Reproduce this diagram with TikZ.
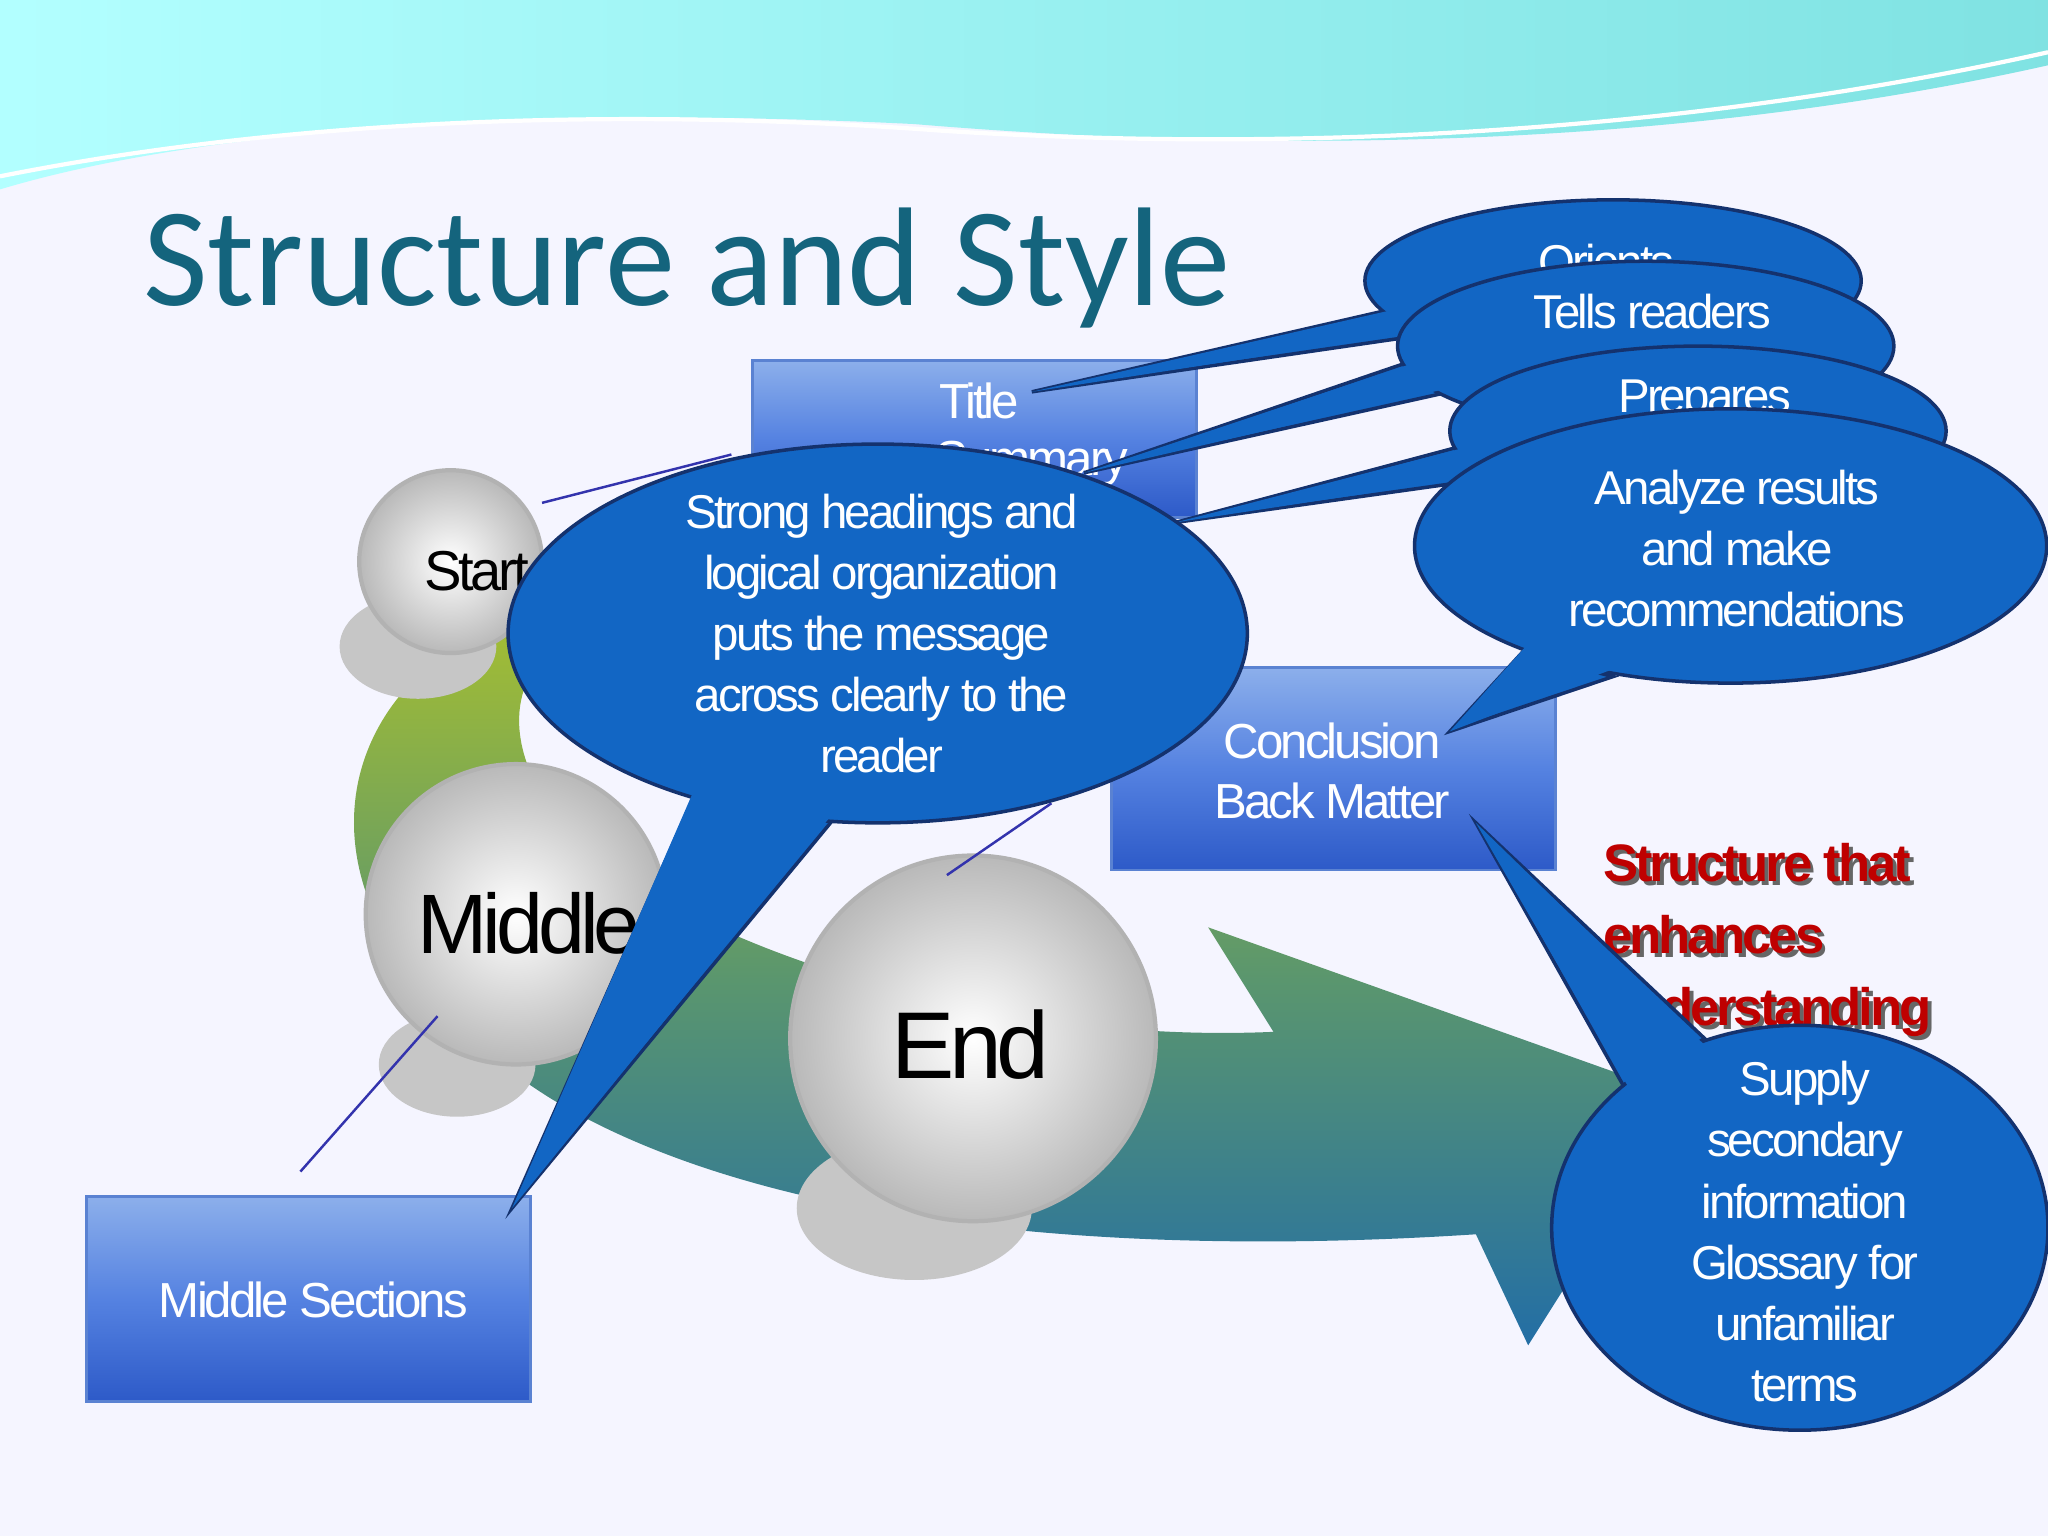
\documentclass[tikz,border=0pt]{standalone}
\usepackage{fontspec}
\setmainfont{Liberation Sans}[LetterSpace=-6]
\newfontfamily\titlefont{Carlito}
\begin{document}
\begin{tikzpicture}[x=0.013061cm,y=-0.013061cm,
  bx/.style={draw=boxedge,line width=0.8pt,top color=boxtop,bottom color=boxbot,middle color=boxmid},
  cb/.style={fill=calblue,draw=calborder,line width=1pt},
  cbf/.style={fill=calblue},
  ct/.style={text=white,align=center,font=\fontsize{13.5}{17.4}\selectfont},
  ball/.style={inner color=white,outer color=gray!55,draw=gray!60,line width=1.2pt},
  shad/.style={fill=gray!45},
  thin/.style={draw=blue!60!black!80,line width=0.7pt}]
\definecolor{calblue}{RGB}{18,102,196}
\definecolor{calborder}{RGB}{20,50,110}
\definecolor{titlec}{RGB}{20,100,125}
\definecolor{boxtop}{RGB}{140,175,235}
\definecolor{boxmid}{RGB}{85,130,225}
\definecolor{boxbot}{RGB}{45,90,200}
\definecolor{boxedge}{RGB}{90,130,210}
\definecolor{arrg}{RGB}{165,190,50}
\definecolor{arrm}{RGB}{90,150,110}
\definecolor{arrb}{RGB}{35,110,165}
\useasboundingbox (0,0) rectangle (1568,1176);
\fill[white!96!blue] (0,0) rectangle (1568,1176);
% top wave
\shade[left color=cyan!30!white,right color=cyan!55!teal!50!white] (0,0) -- (1568,0) -- (1568,50) .. controls (1300,110) and (1000,120) .. (700,95) .. controls (400,80) and (150,100) .. (0,145) -- cycle;
\draw[white,line width=1.2pt] (0,135) .. controls (200,95) and (450,80) .. (720,100) .. controls (1000,118) and (1300,100) .. (1568,40);
\node[text=titlec,font=\titlefont\fontsize{40}{40}\selectfont,anchor=west] (title) at (100,205) {Structure and Style};
% arrow band
\shade[top color=arrg,bottom color=arrb,middle color=arrm]
 (400,470) .. controls (250,520) and (200,700) .. (420,840) .. controls (600,950) and (900,960) .. (1130,945) -- (1170,1030) -- (1290,840) -- (925,710) -- (975,790) .. controls (750,800) and (520,720) .. (440,640) .. controls (390,590) and (385,530) .. (420,500) -- cycle;
% shadows
\fill[shad] (320,495) ellipse (60 and 40);
\fill[shad] (350,815) ellipse (60 and 40);
\fill[shad] (700,925) ellipse (90 and 55);
% boxes
\node[bx,minimum width=340*0.013061cm,minimum height=120*0.013061cm,anchor=north west] (tbox) at (575,275) {};
\node[text=white,font=\fontsize{14}{14}\selectfont] (tt) at (750,307) {Title};
\node[text=white,font=\fontsize{14}{14}\selectfont] (ts) at (790,355) {Summary};
\node[bx,minimum width=340*0.013061cm,minimum height=155*0.013061cm,anchor=north west] (cbox) at (850,510) {};
\node[text=white,align=center,font=\fontsize{14}{17}\selectfont] (ctext) at (1020,590) {Conclusion\\Back Matter};
\node[bx,minimum width=340*0.013061cm,minimum height=157*0.013061cm,anchor=north west] (mbox) at (65,915) {};
\node[text=white,font=\fontsize{14}{14}\selectfont] (mtext) at (240,995) {Middle Sections};
% spheres
\node[ball,circle,minimum size=140*0.013061cm] (start) at (345,430) {};
\node[ball,circle,minimum size=230*0.013061cm] (middle) at (395,700) {};
\node[ball,circle,minimum size=280*0.013061cm] (end) at (745,795) {};
\node[font=\fontsize{16}{16}\selectfont] (startt) at (365,437) {Start};
\node[font=\fontsize{24}{24}\selectfont] (middlet) at (405,707) {Middle};
\node[font=\fontsize{27}{27}\selectfont] (endt) at (743,800) {End};
% connectors
\coordinate (s1) at (415,385); \coordinate (s2) at (560,348);
\coordinate (m1) at (335,778); \coordinate (m2) at (230,897);
\coordinate (e1) at (725,670); \coordinate (e2) at (805,615);
\draw[thin] (s1) -- (s2); \draw[thin] (m1) -- (m2); \draw[thin] (e1) -- (e2);
% red text
\node[text=black!60,align=left,anchor=north west,font=\bfseries\fontsize{15}{20.5}\selectfont] at (1221,639) {Structure that\\enhances\\understanding};
\node[text=red!75!black,align=left,anchor=north west,font=\bfseries\fontsize{15}{20.5}\selectfont] (red) at (1218,636) {Structure that\\enhances\\understanding};
% callout 1
\coordinate (t1) at (790,300);
\draw[cb] (1060,238) -- (t1) -- (1100,255) -- cycle;
\draw[cb] (1235,215) ellipse (190 and 62);
\fill[cbf] (1063,238) -- (t1) -- (1100,252) -- cycle;
\node[ct] (c1) at (1230,200) {Orients};
% callout 2
\coordinate (t2) at (830,362);
\draw[cb] (1085,275) -- (t2) -- (1110,300) -- cycle;
\draw[cb] (1260,265) ellipse (190 and 65);
\fill[cbf] (1088,276) -- (t2) -- (1110,297) -- cycle;
\node[ct] (c2) at (1265,262) {Tells readers\\What};
% callout 3
\coordinate (t3) at (900,400);
\draw[cb] (1125,340) -- (t3) -- (1150,365) -- cycle;
\draw[cb] (1300,330) ellipse (190 and 65);
\fill[cbf] (1128,341) -- (t3) -- (1150,362) -- cycle;
\node[ct] (c3) at (1305,307) {Prepares};
% callout 4
\coordinate (t4) at (1110,560);
\draw[cb] (1165,500) -- (t4) -- (1235,518) -- cycle;
\draw[cb] (1325,418) ellipse (242 and 105);
\fill[cbf] (1168,495) -- (t4) -- (1233,513) -- cycle;
\node[ct] (c4) at (1330,420) {Analyze results\\and make\\recommendations};
% callout 5
\coordinate (t5) at (392,925);
\draw[cb] (540,590) -- (t5) -- (640,625) -- cycle;
\draw[cb] (672,485) ellipse (283 and 145);
\fill[cbf] (540,585) -- (t5) -- (640,620) -- cycle;
\node[ct] (c5) at (675,485) {Strong headings and\\logical organization\\puts the message\\across clearly to the\\reader};
% callout 6
\coordinate (t6) at (1130,630);
\draw[cb] (1245,835) -- (t6) -- (1305,795) -- cycle;
\draw[cb] (1378,940) ellipse (190 and 155);
\fill[cbf] (1250,838) -- (t6) -- (1305,800) -- cycle;
\node[ct] (c6) at (1382,943) {Supply\\secondary\\information\\Glossary for\\unfamiliar\\terms};
\end{tikzpicture}
\end{document}
